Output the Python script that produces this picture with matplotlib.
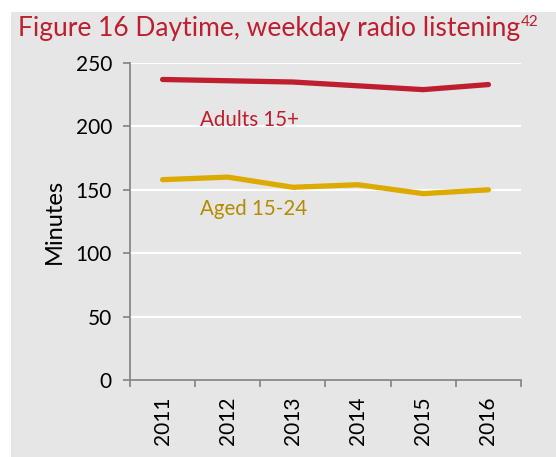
import matplotlib
matplotlib.use("Agg")
from matplotlib import pyplot as plt
from matplotlib.patches import Rectangle

# donnees
years = ["2011", "2012", "2013", "2014", "2015", "2016"]
adults = [237, 236, 235, 232, 229, 233]
aged = [158, 160, 152, 154, 147, 150]
yticks = [0, 50, 100, 150, 200, 250]

red = "#BE1E2D"
gold = "#DDAA00"
gold_txt = "#B38B00"
bg = "#E6E6E6"

plt.rcParams['font.family'] = ['Lato', 'DejaVu Sans']

fig = plt.figure(figsize=(5.56, 4.57), dpi=100)
fig.patch.set_facecolor("white")
fig.patches.append(Rectangle((11 / 556, 0), 1, 1 - 12 / 457, transform=fig.transFigure,
                             facecolor=bg, edgecolor="none", zorder=-5))

ax = fig.add_axes([130 / 556, 1 - 380 / 457, (521 - 130) / 556, (380 - 63) / 457])
ax.set_facecolor(bg)

x = list(range(len(years)))
ax.plot(x, adults, color=red, lw=3.8, solid_capstyle="round", zorder=3)
ax.plot(x, aged, color=gold, lw=3.8, solid_capstyle="round", zorder=3)

ax.text(0.57, 205, "Adults 15+", color=red, fontsize=14.8, va="center", ha="left")
ax.text(0.57, 135, "Aged 15-24", color=gold_txt, fontsize=14.8, va="center", ha="left")

ax.set_xlim(-0.5, 5.5)
ax.set_ylim(0, 250)
ax.set_yticks(yticks)
ax.yaxis.grid(True, color="white", lw=1.5)
ax.set_axisbelow(True)

ax.set_xticks(x)
ax.set_xticklabels(years, rotation=90, fontsize=15)
ax.set_xticks([i - 0.5 for i in range(len(years) + 1)], minor=True)
ax.tick_params(axis="x", which="major", length=0, pad=12)
ax.tick_params(axis="x", which="minor", length=5, width=1.3, color="#888888")
ax.tick_params(axis="y", length=5, width=1.3, color="#888888", labelsize=15, pad=8)

for s in ["top", "right"]:
    ax.spines[s].set_visible(False)
for s in ["left", "bottom"]:
    ax.spines[s].set_color("#888888")
    ax.spines[s].set_linewidth(1.3)

ax.set_ylabel("Minutes", fontsize=17, labelpad=8)

t = fig.text(18 / 556, 1 - 36 / 457, "Figure 16 Daytime, weekday radio listening",
             color=red, fontsize=19, ha="left", va="baseline")
fig.canvas.draw()
bb = t.get_window_extent()
fig.text(bb.x1 / fig.bbox.width + 0.002, 1 - 26 / 457, "42", color=red, fontsize=11,
         ha="left", va="baseline")

fig.savefig("out.png", dpi=100, facecolor=fig.get_facecolor())
